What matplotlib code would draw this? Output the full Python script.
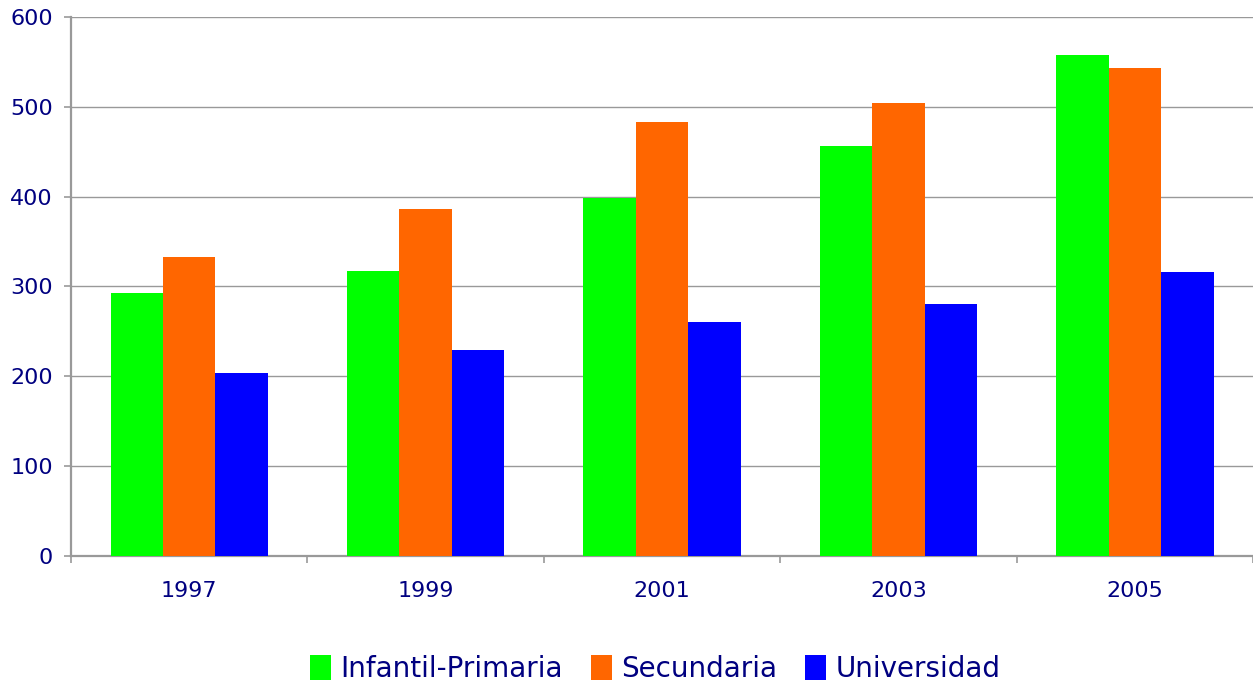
import numpy as np
import matplotlib
matplotlib.use("Agg")
import matplotlib.pyplot as plt

# datos
years = ["1997", "1999", "2001", "2003", "2005"]
infantil = [293, 317, 398, 456, 558]
secundaria = [333, 386, 483, 504, 543]
universidad = [204, 229, 261, 281, 316]

series = [
    ("Infantil-Primaria", infantil, "#00ff00"),
    ("Secundaria", secundaria, "#ff6600"),
    ("Universidad", universidad, "#0000ff"),
]

txt = "#000080"
fig = plt.figure(figsize=(12.53, 6.87), dpi=100)
ax = fig.add_axes([0.0567, 0.1907, 0.9433, 0.7846])

x = np.arange(len(years))
w = 0.222
for i, (name, vals, col) in enumerate(series):
    ax.bar(x + (i - 1) * w, vals, width=w, color=col, label=name, zorder=3)

ax.set_xlim(-0.5, len(years) - 0.5)
ax.set_ylim(0, 600)
ax.set_yticks(range(0, 601, 100))
ax.grid(axis="y", color="#999999", linewidth=1.0, zorder=0)

# ticks del eje x entre grupos
ax.set_xticks(np.arange(-0.5, len(years), 1.0))
ax.set_xticklabels([])
ax.set_xticks(x, minor=True)
ax.set_xticklabels(years, minor=True)
ax.tick_params(axis="x", which="major", length=5, color="#999999", width=1.2)
ax.tick_params(axis="x", which="minor", length=0, pad=18, labelsize=16, labelcolor=txt)
ax.tick_params(axis="y", length=5, color="#999999", width=1.2, labelsize=16,
               labelcolor=txt, pad=8)

for s in ["top", "right"]:
    ax.spines[s].set_visible(False)
for s in ["left", "bottom"]:
    ax.spines[s].set_color("#999999")
    ax.spines[s].set_linewidth(1.6)

leg = fig.legend(loc="center", bbox_to_anchor=(0.523, 0.026), ncol=3, frameon=False,
                 fontsize=20, handlelength=0.75, handleheight=1.0, handletextpad=0.35,
                 columnspacing=1.0)
for t in leg.get_texts():
    t.set_color(txt)

fig.savefig("out.png", dpi=100)
